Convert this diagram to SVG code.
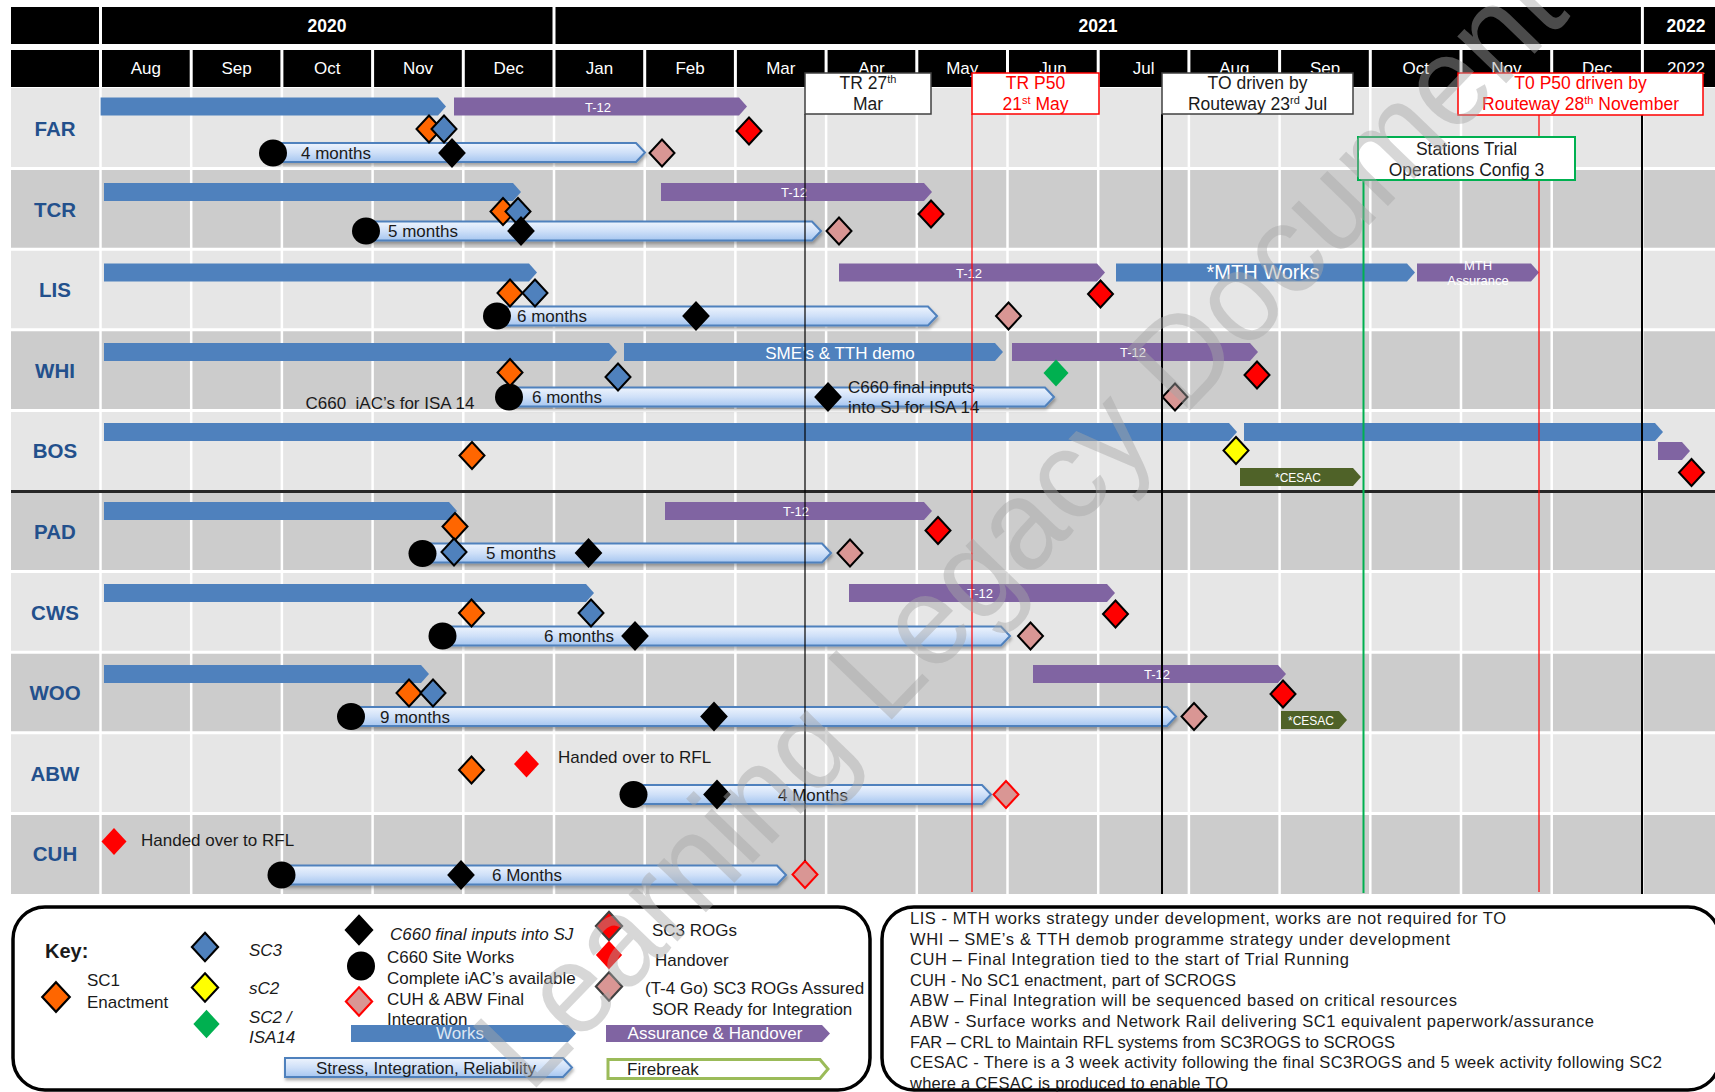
<svg xmlns="http://www.w3.org/2000/svg" width="1715" height="1092" viewBox="0 0 1715 1092">
<defs>
<style>
text{font-family:"Liberation Sans",Arial,sans-serif}
.hd{fill:#fff;font-size:17px;text-anchor:middle}
.yr{fill:#fff;font-size:17.5px;font-weight:bold;text-anchor:middle}
.rl{fill:#23508c;font-size:20.5px;font-weight:bold;text-anchor:middle}
.lt{fill:#e6e6e6}.dk{fill:#cccccc}
.gv{stroke:#fff;stroke-width:2.5}
.gh{stroke:#fff;stroke-width:3}
.hs{stroke:#fff;stroke-width:3}
.wk{fill:#4f81bd}.as{fill:#8064a2}.ce{fill:#4f6228}
.sir{fill:url(#sg);stroke:#4f81bd;stroke-width:2;filter:url(#sh)}
.bl{fill:#1a1a1a;font-size:17px}
.wt{fill:#fff;font-size:13px;text-anchor:middle}
.d{stroke:#000;stroke-width:2}
.o{fill:#ff6600}.b{fill:#4f81bd}.r{fill:#ff0000}.p{fill:#d99694}.y{fill:#ffff00}.k{fill:#000}.g{fill:#00b050}
.rn{fill:#ff0000;stroke:none}
.pr{fill:#d99694;stroke:#ff0000;stroke-width:2}
.bx{fill:#fff;stroke:#404040;stroke-width:1.5}
.bxr{fill:#fff;stroke:#ff0000;stroke-width:1.5}
.bxg{fill:#fff;stroke:#00b050;stroke-width:2}
.bt{font-size:17.5px;text-anchor:middle;fill:#1a1a1a}
.btr{font-size:17.5px;text-anchor:middle;fill:#ff0000}
.lg{fill:#1a1a1a;font-size:17px}
.it{font-style:italic}
.nt{fill:#1a1a1a;font-size:16.5px}
.frame{fill:#fff;stroke:#000;stroke-width:3.5}
</style>
<path id="dm" d="M0,-13.5L12.5,0L0,13.5L-12.5,0Z"/>
<linearGradient id="sg" x1="0" y1="0" x2="0" y2="1">
<stop offset="0" stop-color="#eef4fd"/>
<stop offset="0.5" stop-color="#cfe0f8"/>
<stop offset="1" stop-color="#a6c6f0"/>
</linearGradient>
<filter id="sh" x="-5%" y="-40%" width="110%" height="190%">
<feDropShadow dx="1" dy="2.5" stdDeviation="1.5" flood-color="#000" flood-opacity="0.3"/>
</filter>
</defs>

<rect width="1715" height="1092" fill="#fff"/>

<!-- timeline header -->
<g id="header">
<rect x="11" y="7" width="1704" height="37" fill="#000"/>
<rect x="11" y="50" width="1704" height="37" fill="#000"/>
<line class="hs" x1="100.5" y1="7" x2="100.5" y2="44"/>
<line class="hs" x1="554" y1="7" x2="554" y2="44"/>
<line class="hs" x1="1642.4" y1="7" x2="1642.4" y2="44"/>
<g class="hs">
<line x1="100.5" y1="50" x2="100.5" y2="87"/><line x1="191.2" y1="50" x2="191.2" y2="87"/>
<line x1="281.9" y1="50" x2="281.9" y2="87"/><line x1="372.6" y1="50" x2="372.6" y2="87"/>
<line x1="463.3" y1="50" x2="463.3" y2="87"/><line x1="554" y1="50" x2="554" y2="87"/>
<line x1="644.7" y1="50" x2="644.7" y2="87"/><line x1="735.4" y1="50" x2="735.4" y2="87"/>
<line x1="826.1" y1="50" x2="826.1" y2="87"/><line x1="916.8" y1="50" x2="916.8" y2="87"/>
<line x1="1007.5" y1="50" x2="1007.5" y2="87"/><line x1="1098.2" y1="50" x2="1098.2" y2="87"/>
<line x1="1188.9" y1="50" x2="1188.9" y2="87"/><line x1="1279.6" y1="50" x2="1279.6" y2="87"/>
<line x1="1370.3" y1="50" x2="1370.3" y2="87"/><line x1="1461" y1="50" x2="1461" y2="87"/>
<line x1="1551.7" y1="50" x2="1551.7" y2="87"/><line x1="1642.4" y1="50" x2="1642.4" y2="87"/>
</g>
<text class="yr" x="327" y="31.5">2020</text>
<text class="yr" x="1098" y="31.5">2021</text>
<text class="yr" x="1686" y="31.5">2022</text>
<text class="hd" x="145.9" y="74">Aug</text>
<text class="hd" x="236.6" y="74">Sep</text>
<text class="hd" x="327.3" y="74">Oct</text>
<text class="hd" x="418" y="74">Nov</text>
<text class="hd" x="508.7" y="74">Dec</text>
<text class="hd" x="599.4" y="74">Jan</text>
<text class="hd" x="690.1" y="74">Feb</text>
<text class="hd" x="780.8" y="74">Mar</text>
<text class="hd" x="871.5" y="74">Apr</text>
<text class="hd" x="962.2" y="74">May</text>
<text class="hd" x="1052.9" y="74">Jun</text>
<text class="hd" x="1143.6" y="74">Jul</text>
<text class="hd" x="1234.3" y="74">Aug</text>
<text class="hd" x="1325" y="74">Sep</text>
<text class="hd" x="1415.7" y="74">Oct</text>
<text class="hd" x="1506.4" y="74">Nov</text>
<text class="hd" x="1597.1" y="74">Dec</text>
<text class="hd" x="1686" y="74">2022</text>
</g>

<!-- row bands and month grid -->
<g id="grid">
<rect class="lt" x="11" y="88" width="1704" height="80.6"/>
<rect class="dk" x="11" y="168.6" width="1704" height="80.6"/>
<rect class="lt" x="11" y="249.2" width="1704" height="80.6"/>
<rect class="dk" x="11" y="329.8" width="1704" height="80.6"/>
<rect class="lt" x="11" y="410.4" width="1704" height="80.6"/>
<rect class="dk" x="11" y="491" width="1704" height="80.6"/>
<rect class="lt" x="11" y="571.6" width="1704" height="80.6"/>
<rect class="dk" x="11" y="652.2" width="1704" height="80.6"/>
<rect class="lt" x="11" y="732.8" width="1704" height="80.6"/>
<rect class="dk" x="11" y="813.4" width="1704" height="80.6"/>
<g class="gv">
<line x1="100.5" y1="88" x2="100.5" y2="894"/><line x1="191.2" y1="88" x2="191.2" y2="894"/>
<line x1="281.9" y1="88" x2="281.9" y2="894"/><line x1="372.6" y1="88" x2="372.6" y2="894"/>
<line x1="463.3" y1="88" x2="463.3" y2="894"/><line x1="554" y1="88" x2="554" y2="894"/>
<line x1="644.7" y1="88" x2="644.7" y2="894"/><line x1="735.4" y1="88" x2="735.4" y2="894"/>
<line x1="826.1" y1="88" x2="826.1" y2="894"/><line x1="916.8" y1="88" x2="916.8" y2="894"/>
<line x1="1007.5" y1="88" x2="1007.5" y2="894"/><line x1="1098.2" y1="88" x2="1098.2" y2="894"/>
<line x1="1188.9" y1="88" x2="1188.9" y2="894"/><line x1="1279.6" y1="88" x2="1279.6" y2="894"/>
<line x1="1370.3" y1="88" x2="1370.3" y2="894"/><line x1="1461" y1="88" x2="1461" y2="894"/>
<line x1="1551.7" y1="88" x2="1551.7" y2="894"/><line x1="1642.4" y1="88" x2="1642.4" y2="894"/>
</g>
<g class="gh">
<line x1="11" y1="168.6" x2="1715" y2="168.6"/><line x1="11" y1="249.2" x2="1715" y2="249.2"/>
<line x1="11" y1="329.8" x2="1715" y2="329.8"/><line x1="11" y1="410.4" x2="1715" y2="410.4"/>
<line x1="11" y1="571.6" x2="1715" y2="571.6"/><line x1="11" y1="652.2" x2="1715" y2="652.2"/>
<line x1="11" y1="732.8" x2="1715" y2="732.8"/><line x1="11" y1="813.4" x2="1715" y2="813.4"/>
</g>
<line x1="11" y1="491.5" x2="1715" y2="491.5" stroke="#262626" stroke-width="3"/>
</g>

<!-- FAR -->
<g id="row-far">
<text class="rl" x="55" y="136">FAR</text>
<path class="wk" d="M100.6,97.5H438L446,106.5L438,115.5H100.6Z"/>
<path class="as" d="M454,97.5H739L747,106.5L739,115.5H454Z"/>
<text class="wt" x="598" y="111.5">T-12</text>
<path class="sir" d="M273,143H636L645,152.5L636,162H273Z"/>
<text class="bl" x="301" y="158.5">4 months</text>
<ellipse cx="273" cy="153" rx="14" ry="13.5"/>
<use href="#dm" x="429" y="129" class="d o"/>
<use href="#dm" x="444" y="129" class="d b"/>
<use href="#dm" x="452" y="153" class="d k"/>
<use href="#dm" x="662" y="153" class="d p"/>
<use href="#dm" x="749" y="131" class="d r"/>
</g>

<!-- TCR -->
<g id="row-tcr">
<text class="rl" x="55" y="216.6">TCR</text>
<path class="wk" d="M104,183H513L521,192L513,201H104Z"/>
<path class="as" d="M661,183H924L932,192L924,201H661Z"/>
<text class="wt" x="794" y="197">T-12</text>
<path class="sir" d="M366,221.5H812L821,231L812,240.5H366Z"/>
<text class="bl" x="388" y="237">5 months</text>
<ellipse cx="366" cy="231" rx="14" ry="13.5"/>
<use href="#dm" x="503" y="211.5" class="d o"/>
<use href="#dm" x="518" y="211.5" class="d b"/>
<use href="#dm" x="521" y="231" class="d k"/>
<use href="#dm" x="839" y="231" class="d p"/>
<use href="#dm" x="931" y="214" class="d r"/>
</g>

<!-- LIS -->
<g id="row-lis">
<text class="rl" x="55" y="297.2">LIS</text>
<path class="wk" d="M104,263.5H529L537,272.5L529,281.5H104Z"/>
<path class="as" d="M839,263.5H1097L1105,272.5L1097,281.5H839Z"/>
<text class="wt" x="969" y="277.5">T-12</text>
<path class="wk" d="M1116,263.5H1407L1415,272.5L1407,281.5H1116Z"/>
<text x="1263" y="279" fill="#fff" font-size="20" text-anchor="middle">*MTH Works</text>
<path class="as" d="M1417,263.5H1531L1539,272.5L1531,281.5H1417Z"/>
<text class="wt" x="1478" y="270">MTH</text>
<text class="wt" x="1478" y="285">Assurance</text>
<path class="sir" d="M497,306.5H928L937,316L928,325.5H497Z"/>
<text class="bl" x="517" y="322">6 months</text>
<ellipse cx="497" cy="316" rx="14" ry="13.5"/>
<use href="#dm" x="510" y="293" class="d o"/>
<use href="#dm" x="535" y="293" class="d b"/>
<use href="#dm" x="696" y="316" class="d k"/>
<use href="#dm" x="1008.5" y="316" class="d p"/>
<use href="#dm" x="1100.5" y="294" class="d r"/>
</g>

<!-- WHI -->
<g id="row-whi">
<text class="rl" x="55" y="377.8">WHI</text>
<path class="wk" d="M104,343H609L617,352L609,361H104Z"/>
<path class="wk" d="M624,343H995L1003,352L995,361H624Z"/>
<text x="840" y="358.5" fill="#fff" font-size="17" text-anchor="middle">SME’s &amp; TTH demo</text>
<path class="as" d="M1012,343H1250L1258,352L1250,361H1012Z"/>
<text class="wt" x="1133" y="357">T-12</text>
<path class="sir" d="M509,387.5H1045L1054,397L1045,406.5H509Z"/>
<text class="bl" x="532" y="403">6 months</text>
<text class="bl" x="305.5" y="409" xml:space="preserve">C660  iAC’s for ISA 14</text>
<text class="bl" x="848" y="392.5">C660 final inputs</text>
<text class="bl" x="848" y="413">into SJ for ISA 14</text>
<ellipse cx="509" cy="397" rx="14" ry="13.5"/>
<use href="#dm" x="510" y="372.5" class="d o"/>
<use href="#dm" x="618" y="377" class="d b"/>
<use href="#dm" x="828" y="397" class="d k"/>
<use href="#dm" x="1056" y="373" class="g"/>
<use href="#dm" x="1175" y="397" class="d p"/>
<use href="#dm" x="1257" y="375" class="d r"/>
</g>

<!-- BOS -->
<g id="row-bos">
<text class="rl" x="55" y="458.4">BOS</text>
<path class="wk" d="M104,423H1229L1237,432L1229,441H104Z"/>
<path class="wk" d="M1244,423H1655L1663,432L1655,441H1244Z"/>
<path class="as" d="M1658,442H1682L1690,451L1682,460H1658Z"/>
<path class="ce" d="M1240,468H1353L1361,477L1353,486H1240Z"/>
<text x="1298" y="481.5" fill="#fff" font-size="12" text-anchor="middle">*CESAC</text>
<use href="#dm" x="472" y="455.5" class="d o"/>
<use href="#dm" x="1236" y="450.5" class="d y"/>
<use href="#dm" x="1691.5" y="472.5" class="d r"/>
</g>

<!-- PAD -->
<g id="row-pad">
<text class="rl" x="55" y="539">PAD</text>
<path class="wk" d="M104,502H449L457,511L449,520H104Z"/>
<path class="as" d="M665,502H924L932,511L924,520H665Z"/>
<text class="wt" x="796" y="516">T-12</text>
<path class="sir" d="M422,543.5H822L831,553L822,562.5H422Z"/>
<text class="bl" x="486" y="559">5 months</text>
<ellipse cx="422.5" cy="553.5" rx="14" ry="13.5"/>
<use href="#dm" x="455" y="526.5" class="d o"/>
<use href="#dm" x="454" y="552" class="d b"/>
<use href="#dm" x="588.5" y="553" class="d k"/>
<use href="#dm" x="850" y="553" class="d p"/>
<use href="#dm" x="938" y="530.5" class="d r"/>
</g>

<!-- CWS -->
<g id="row-cws">
<text class="rl" x="55" y="619.6">CWS</text>
<path class="wk" d="M104,584H586L594,593L586,602H104Z"/>
<path class="as" d="M849,584H1107L1115,593L1107,602H849Z"/>
<text class="wt" x="980" y="598">T-12</text>
<path class="sir" d="M442,626.5H1001L1010,636L1001,645.5H442Z"/>
<text class="bl" x="544" y="642">6 months</text>
<ellipse cx="442.5" cy="636" rx="14" ry="13.5"/>
<use href="#dm" x="471.5" y="613" class="d o"/>
<use href="#dm" x="591" y="613" class="d b"/>
<use href="#dm" x="635" y="636" class="d k"/>
<use href="#dm" x="1030.5" y="636" class="d p"/>
<use href="#dm" x="1115.5" y="614" class="d r"/>
</g>

<!-- WOO -->
<g id="row-woo">
<text class="rl" x="55" y="700.2">WOO</text>
<path class="wk" d="M104,665H421L429,674L421,683H104Z"/>
<path class="as" d="M1033,665H1278L1286,674L1278,683H1033Z"/>
<text class="wt" x="1157" y="679">T-12</text>
<path class="ce" d="M1281,711H1339L1347,720L1339,729H1281Z"/>
<text x="1311" y="724.5" fill="#fff" font-size="12" text-anchor="middle">*CESAC</text>
<path class="sir" d="M351,707H1167L1176,716.5L1167,726H351Z"/>
<text class="bl" x="380" y="722.5">9 months</text>
<ellipse cx="351" cy="716.5" rx="14" ry="13.5"/>
<use href="#dm" x="409" y="693" class="d o"/>
<use href="#dm" x="433" y="693" class="d b"/>
<use href="#dm" x="714" y="716.5" class="d k"/>
<use href="#dm" x="1194" y="716.5" class="d p"/>
<use href="#dm" x="1283" y="694" class="d r"/>
</g>

<!-- ABW -->
<g id="row-abw">
<text class="rl" x="55" y="780.8">ABW</text>
<text class="bl" x="558" y="763">Handed over to RFL</text>
<path class="sir" d="M633,785H982L991,794.5L982,804H633Z"/>
<text class="bl" x="778" y="800.5">4 Months</text>
<ellipse cx="633.5" cy="794.5" rx="14" ry="13.5"/>
<use href="#dm" x="471.5" y="770" class="d o"/>
<use href="#dm" x="526.5" y="764" class="rn"/>
<use href="#dm" x="717" y="794.5" class="d k"/>
<use href="#dm" x="1006" y="794.5" class="pr"/>
</g>

<!-- CUH -->
<g id="row-cuh">
<text class="rl" x="55" y="861.4">CUH</text>
<text class="bl" x="141" y="846">Handed over to RFL</text>
<path class="sir" d="M281,865.5H777L786,875L777,884.5H281Z"/>
<text class="bl" x="492" y="881">6 Months</text>
<ellipse cx="281.5" cy="875" rx="14" ry="13.5"/>
<use href="#dm" x="114" y="841.5" class="rn"/>
<use href="#dm" x="461" y="875" class="d k"/>
<use href="#dm" x="805" y="874.5" class="pr"/>
</g>

<!-- milestone date lines -->
<g id="connectors">
<line x1="805" y1="114" x2="805" y2="861" stroke="#000" stroke-width="1.2"/>
<line x1="972" y1="114" x2="972" y2="892" stroke="#ff0000" stroke-width="1.2"/>
<line x1="1162" y1="114" x2="1162" y2="894" stroke="#000" stroke-width="2"/>
<line x1="1363.5" y1="180" x2="1363.5" y2="893" stroke="#00b050" stroke-width="2"/>
<line x1="1539" y1="115" x2="1539" y2="892" stroke="#ff0000" stroke-width="1.2"/>
<line x1="1642" y1="88" x2="1642" y2="894" stroke="#000" stroke-width="2"/>
</g>

<!-- milestone callouts -->
<g id="box-tr">
<rect class="bx" x="805" y="73" width="126" height="41"/>
<text class="bt" x="868" y="89">TR 27<tspan font-size="11" dy="-6">th</tspan></text>
<text class="bt" x="868" y="110">Mar</text>
</g>
<g id="box-tr-p50">
<rect class="bxr" x="972" y="73" width="127" height="41"/>
<text class="btr" x="1035.5" y="89">TR P50</text>
<text class="btr" x="1035.5" y="110">21<tspan font-size="11" dy="-6">st</tspan><tspan dy="6"> May</tspan></text>
</g>
<g id="box-to">
<rect class="bx" x="1162" y="73" width="191" height="41"/>
<text class="bt" x="1257.5" y="89">TO driven by</text>
<text class="bt" x="1257.5" y="110">Routeway 23<tspan font-size="11" dy="-6">rd</tspan><tspan dy="6"> Jul</tspan></text>
</g>
<g id="box-to-p50">
<rect class="bxr" x="1458" y="73" width="245" height="42"/>
<text class="btr" x="1580.5" y="89">T0 P50 driven by</text>
<text class="btr" x="1580.5" y="110">Routeway 28<tspan font-size="11" dy="-6">th</tspan><tspan dy="6"> November</tspan></text>
</g>
<g id="box-stations">
<rect class="bxg" x="1358" y="137" width="217" height="43"/>
<text class="bt" x="1466.5" y="154.5">Stations Trial</text>
<text class="bt" x="1466.5" y="175.5">Operations Config 3</text>
</g>

<!-- key -->
<g id="legend">
<rect class="frame" x="13" y="907" width="857" height="183" rx="32"/>
<text x="45" y="958" font-size="20" font-weight="bold" fill="#1a1a1a">Key:</text>
<use href="#dm" class="d o" transform="translate(56,997) scale(1.1)"/>
<text class="lg" x="87" y="986">SC1</text>
<text class="lg" x="87" y="1008">Enactment</text>
<use href="#dm" class="d b" transform="translate(205,947) scale(1.05)"/>
<text class="lg it" x="249" y="956">SC3</text>
<use href="#dm" class="d y" transform="translate(205,987.5) scale(1.05)"/>
<text class="lg it" x="249" y="994">sC2</text>
<use href="#dm" class="g" transform="translate(206.5,1024) scale(1.05)"/>
<text class="lg it" x="249" y="1023">SC2 /</text>
<text class="lg it" x="249" y="1043">ISA14</text>
<use href="#dm" class="d k" transform="translate(359,930) scale(1.05)"/>
<text class="lg it" x="390" y="940">C660 final inputs into SJ</text>
<ellipse cx="361" cy="966" rx="14" ry="14.5"/>
<text class="lg" x="387" y="963">C660 Site Works</text>
<text class="lg" x="387" y="984">Complete iAC’s available</text>
<use href="#dm" class="pr" transform="translate(359,1001.5) scale(1.05)"/>
<text class="lg" x="387" y="1005">CUH &amp; ABW Final</text>
<text class="lg" x="387" y="1025">Integration</text>
<path class="wk" d="M351,1025H568L576,1033.5L568,1042H351Z"/>
<text x="460" y="1039" fill="#dce6f2" font-size="17" text-anchor="middle">Works</text>
<path class="sir" d="M285,1058H563L572,1067.5L563,1077H285Z"/>
<text class="lg" x="426" y="1073.5" text-anchor="middle">Stress, Integration, Reliability</text>
<use href="#dm" class="r" stroke="#404040" stroke-width="2" transform="translate(609,926) scale(1.05)"/>
<text class="lg" x="652" y="936">SC3 ROGs</text>
<use href="#dm" class="rn" transform="translate(609,955) scale(1.05)"/>
<text class="lg" x="655" y="966">Handover</text>
<use href="#dm" class="p" stroke="#404040" stroke-width="2" transform="translate(609,986.5) scale(1.05)"/>
<text class="lg" x="645" y="994">(T-4 Go) SC3 ROGs Assured</text>
<text class="lg" x="652" y="1015">SOR Ready for Integration</text>
<path class="as" d="M606,1025H822L830,1033.5L822,1042H606Z"/>
<text x="715" y="1039" fill="#fff" font-size="17" text-anchor="middle">Assurance &amp; Handover</text>
<path d="M608,1059.5H820L828,1069L820,1078.5H608Z" fill="#fff" stroke="#9bbb59" stroke-width="3"/>
<text class="lg" x="627" y="1075">Firebreak</text>
</g>

<!-- notes -->
<g id="notes">
<rect class="frame" x="882" y="907" width="838" height="183" rx="32"/>
<text class="nt" x="910" y="923.5" textLength="596" lengthAdjust="spacing">LIS - MTH works strategy under development, works are not required for TO</text>
<text class="nt" x="910" y="944.5" textLength="540" lengthAdjust="spacing">WHI – SME’s &amp; TTH demob programme strategy under development</text>
<text class="nt" x="910" y="965" textLength="439" lengthAdjust="spacing">CUH – Final Integration tied to the start of Trial Running</text>
<text class="nt" x="910" y="985.5" textLength="326" lengthAdjust="spacing">CUH - No SC1 enactment, part of SCROGS</text>
<text class="nt" x="910" y="1006" textLength="547" lengthAdjust="spacing">ABW – Final Integration will be sequenced based on critical resources</text>
<text class="nt" x="910" y="1027" textLength="684" lengthAdjust="spacing">ABW - Surface works and Network Rail delivering SC1 equivalent paperwork/assurance</text>
<text class="nt" x="910" y="1047.5" textLength="485" lengthAdjust="spacing">FAR – CRL to Maintain RFL systems from SC3ROGS to SCROGS</text>
<text class="nt" x="910" y="1068" textLength="752" lengthAdjust="spacing">CESAC - There is a 3 week activity following the final SC3ROGS and 5 week activity following SC2</text>
<text class="nt" x="910" y="1088.5" textLength="318" lengthAdjust="spacing">where a CESAC is produced to enable TO</text>
</g>

<!-- document watermark -->
<g id="watermark" transform="translate(1018,524) rotate(-46)">
<text x="0" y="45" text-anchor="middle" font-size="128" fill="#a6a6a6" fill-opacity="0.45" textLength="1500" lengthAdjust="spacingAndGlyphs">Learning Legacy Document</text>
</g>
</svg>
